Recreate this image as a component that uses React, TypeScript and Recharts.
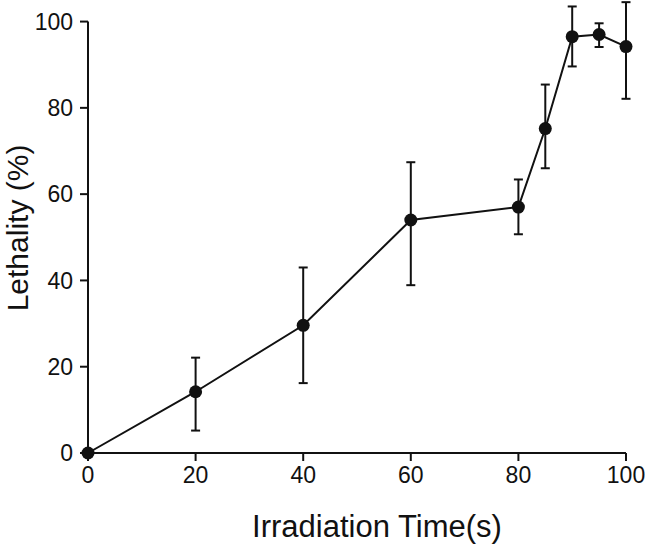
import React from "react";
import {
  LineChart,
  Line,
  XAxis,
  YAxis,
  ErrorBar,
  ReferenceLine,
} from "recharts";

const times = [0, 20, 40, 60, 80, 85, 90, 95, 100];
const lethality = [0, 14.2, 29.6, 54.0, 57.0, 75.2, 96.5, 97.0, 94.2];
const errLower = [0, 9.0, 13.4, 15.1, 6.3, 9.2, 6.9, 2.9, 12.1];
const errUpper = [0, 7.9, 13.4, 13.4, 6.4, 10.2, 7.0, 2.6, 10.3];
const xTicks = [0, 20, 40, 60, 80, 100];
const yTicks = [0, 20, 40, 60, 80, 100];

const data = times.map((t, i) => ({
  time: t,
  value: lethality[i],
  err: [errLower[i], errUpper[i]],
}));

const FONT = "'Liberation Sans', Arial, Helvetica, sans-serif";
const INK = "#111";

const XLabel = (props: any) => {
  const { viewBox } = props;
  return (
    <text
      x={viewBox.x + viewBox.width / 2 + 20}
      y={537}
      textAnchor="middle"
      fontFamily={FONT}
      fontSize={31}
      fill={INK}
    >
      Irradiation Time(s)
    </text>
  );
};

const YLabel = () => (
  <text
    x={28}
    y={228}
    transform="rotate(-90 28 228)"
    textAnchor="middle"
    fontFamily={FONT}
    fontSize={30}
    fill={INK}
  >
    Lethality (%)
  </text>
);

export default function App() {
  return (
    <div style={{ position: "absolute", left: 0, top: 0, background: "#fff" }}>
      <LineChart
        width={645}
        height={546}
        data={data}
        margin={{ top: 0, right: 19, left: 0, bottom: 0 }}
      >
        <XAxis
          dataKey="time"
          type="number"
          domain={[0, 100]}
          ticks={xTicks}
          height={93}
          tickSize={8}
          tickMargin={6}
          stroke={INK}
          strokeWidth={2}
          tick={{ fill: INK, fontSize: 23, fontFamily: FONT }}
          label={<XLabel />}
        />
        <YAxis
          type="number"
          domain={[0, 105]}
          ticks={yTicks}
          width={88}
          tickSize={8}
          tickMargin={7}
          axisLine={false}
          tickLine={{ stroke: INK, strokeWidth: 2 }}
          tick={{ fill: INK, fontSize: 23, fontFamily: FONT }}
          label={<YLabel />}
        />
        <ReferenceLine
          segment={[
            { x: 0, y: 0 },
            { x: 0, y: 100 },
          ]}
          stroke={INK}
          strokeWidth={2}
        />
        <Line
          dataKey="value"
          type="linear"
          stroke={INK}
          strokeWidth={2}
          dot={{ r: 6.5, fill: INK, stroke: INK, strokeWidth: 0 }}
          activeDot={false}
          isAnimationActive={false}
        >
          <ErrorBar
            dataKey="err"
            direction="y"
            width={4.5}
            stroke={INK}
            strokeWidth={2}
            isAnimationActive={false}
          />
        </Line>
      </LineChart>
    </div>
  );
}
